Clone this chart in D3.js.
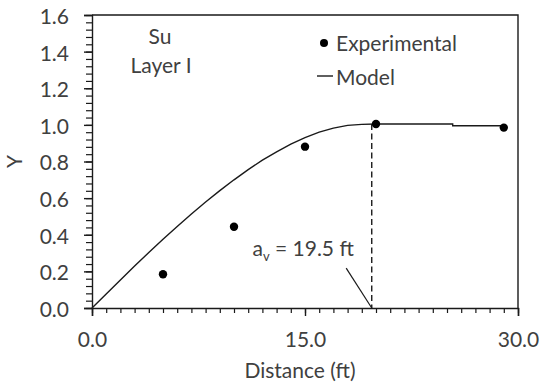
<!DOCTYPE html>
<html>
<head>
<meta charset="utf-8">
<script src="https://cdn.jsdelivr.net/npm/d3@7"></script>
<style>
  body { margin: 0; background: #fff; }
  svg { display: block; }
  text { font-family: Lato, "Open Sans", sans-serif; fill: #404040; }
</style>
</head>
<body>
<svg id="chart" width="542" height="387"></svg>
<script>
// ---- data ----
const expDistance = [5, 10, 15, 20, 29];
const expGamma    = [0.184, 0.444, 0.881, 1.005, 0.985];

const modelDistance = [0, 1, 2, 3, 4, 5, 6, 7, 8, 9, 10, 11, 12, 13, 14, 15, 16, 17, 18, 19, 20, 25.4, 25.4, 29];
const modelGamma    = [0, 0.077, 0.153, 0.229, 0.303, 0.375, 0.445, 0.513, 0.579, 0.641, 0.700, 0.756, 0.807, 0.853, 0.895, 0.930, 0.960, 0.982, 0.997, 1.003, 1.005, 1.005, 0.995, 0.995];

const rangeValue = 19.7;           // dashed line position (a_v)
const rangeLabel = "19.5 ft";

const yTicks = [0, 0.2, 0.4, 0.6, 0.8, 1.0, 1.2, 1.4, 1.6];
const xTicks = [0, 15, 30];
const xTickLabels = ["0.0", "15.0", "30.0"];
const yTitle = "Y";
const xTitle = "Distance (ft)";
const legendLabels = ["Experimental", "Model"];
const noteLines = ["Su", "Layer I"];

// ---- layout ----
const svg = d3.select("#chart");
const L = 92, R = 518, T = 15, B = 308;
const x = d3.scaleLinear().domain([0, 30]).range([L, R]);
const y = d3.scaleLinear().domain([0, 1.6]).range([B, T]);
const ink = "#1a1a1a";
const fs = 21;

// minor y ticks
const yMinor = d3.range(0, 1.6001, 0.04);
svg.append("g").attr("transform", `translate(${L},0)`)
  .call(d3.axisLeft(y).tickValues(yMinor).tickSize(6).tickFormat(""))
  .call(g => g.select(".domain").remove())
  .call(g => g.selectAll("line").attr("stroke", ink).attr("stroke-width", 1.2));

// major y axis
svg.append("g").attr("transform", `translate(${L},0)`)
  .call(d3.axisLeft(y).tickValues(yTicks).tickSize(8).tickPadding(15).tickFormat(d3.format(".1f")))
  .call(g => g.select(".domain").attr("stroke", ink).attr("stroke-width", 1.4))
  .call(g => g.selectAll("line").attr("stroke", ink).attr("stroke-width", 1.4))
  .call(g => g.selectAll("text").attr("font-size", fs).attr("font-family", "Lato").attr("fill", "#404040").attr("dy", "0.4em"));

// minor x ticks
const xMinor = d3.range(0, 30.001, 1);
svg.append("g").attr("transform", `translate(0,${B})`)
  .call(d3.axisBottom(x).tickValues(xMinor).tickSize(5).tickFormat(""))
  .call(g => g.select(".domain").remove())
  .call(g => g.selectAll("line").attr("stroke", ink).attr("stroke-width", 1.2));

// major x axis
svg.append("g").attr("transform", `translate(0,${B})`)
  .call(d3.axisBottom(x).tickValues(xTicks).tickSize(8).tickPadding(16).tickFormat((d, i) => xTickLabels[i]))
  .call(g => g.select(".domain").attr("stroke", ink).attr("stroke-width", 1.4))
  .call(g => g.selectAll("line").attr("stroke", ink).attr("stroke-width", 1.4))
  .call(g => g.selectAll("text").attr("font-size", fs).attr("font-family", "Lato").attr("fill", "#404040"));

// frame top/right
svg.append("path")
  .attr("d", `M${L},${T}H${R}V${B}`)
  .attr("fill", "none").attr("stroke", ink).attr("stroke-width", 1.4);

// axis titles
svg.append("text").attr("transform", `translate(22,${(T + B) / 2}) rotate(-90)`)
  .attr("text-anchor", "middle").attr("font-size", fs).text(yTitle);
svg.append("text").attr("x", (L + R) / 2 - 5).attr("y", 378)
  .attr("text-anchor", "middle").attr("font-size", fs).text(xTitle);

// dashed range line
const modelPts = modelDistance.map((d, i) => [d, modelGamma[i]]);
svg.append("line")
  .attr("x1", x(rangeValue)).attr("x2", x(rangeValue))
  .attr("y1", y(1.005)).attr("y2", y(0))
  .attr("stroke", ink).attr("stroke-width", 1.4).attr("stroke-dasharray", "6,3.5");

// model line
svg.append("path")
  .datum(modelPts)
  .attr("d", d3.line().x(d => x(d[0])).y(d => y(d[1])))
  .attr("fill", "none").attr("stroke", ink).attr("stroke-width", 1.4);

// experimental points
svg.append("g").selectAll("circle")
  .data(expDistance.map((d, i) => [d, expGamma[i]]))
  .join("circle")
  .attr("cx", d => x(d[0])).attr("cy", d => y(d[1])).attr("r", 4.2)
  .attr("fill", "#000");

// annotation
const ann = svg.append("text").attr("x", x(11.3)).attr("y", y(0.285)).attr("font-size", fs);
ann.append("tspan").text("a");
ann.append("tspan").attr("font-size", 13).attr("dy", 5).text("v");
ann.append("tspan").attr("dy", -5).text(" = " + rangeLabel);
svg.append("line")
  .attr("x1", x(17.9)).attr("y1", y(0.218))
  .attr("x2", x(rangeValue)).attr("y2", y(0))
  .attr("stroke", ink).attr("stroke-width", 1.2);

// note text
svg.append("text").attr("x", 160).attr("y", 44).attr("text-anchor", "middle").attr("font-size", fs).text(noteLines[0]);
svg.append("text").attr("x", 161).attr("y", 73).attr("text-anchor", "middle").attr("font-size", fs).text(noteLines[1]);

// legend
svg.append("circle").attr("cx", 324).attr("cy", 43).attr("r", 4).attr("fill", "#000");
svg.append("text").attr("x", 336).attr("y", 51).attr("font-size", fs).text(legendLabels[0]);
svg.append("line").attr("x1", 317).attr("x2", 333).attr("y1", 76).attr("y2", 76).attr("stroke", ink).attr("stroke-width", 1.4);
svg.append("text").attr("x", 336).attr("y", 85).attr("font-size", fs).text(legendLabels[1]);
</script>
</body>
</html>
